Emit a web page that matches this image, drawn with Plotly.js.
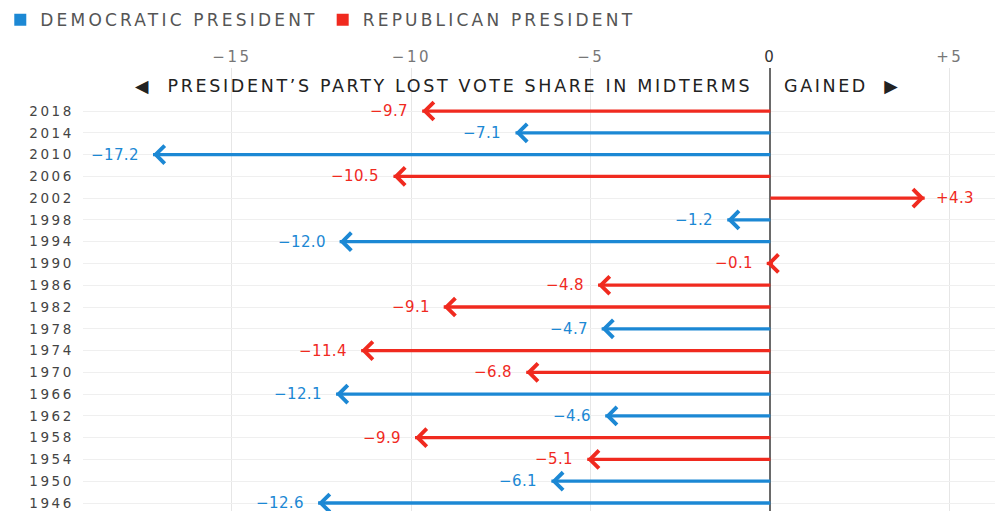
<!DOCTYPE html>
<html>
<head>
<meta charset="utf-8">
<script src="https://cdn.plot.ly/plotly-3.0.1.min.js"></script>
<style>
  html, body { margin: 0; padding: 0; background: #fff; }
  #chart { width: 995px; height: 511px; }
  .legendtext { letter-spacing: 3.2px; }
  .ytick text { letter-spacing: 2.6px; }
  .xtick text { letter-spacing: 2.5px; }
  .annotation-text { letter-spacing: 0.4px; }
</style>
</head>
<body>
<div id="chart"></div>
<script>
// ---- data ----
const years  = [2018, 2014, 2010, 2006, 2002, 1998, 1994, 1990, 1986, 1982, 1978, 1974, 1970, 1966, 1962, 1958, 1954, 1950, 1946];
const values = [-9.7, -7.1, -17.2, -10.5, 4.3, -1.2, -12.0, -0.1, -4.8, -9.1, -4.7, -11.4, -6.8, -12.1, -4.6, -9.9, -5.1, -6.1, -12.6];
const parties = ['R','D','D','R','R','D','D','R','R','R','D','R','R','D','D','R','R','D','D'];
const partyNames = { D: 'DEMOCRATIC PRESIDENT', R: 'REPUBLICAN PRESIDENT' };
const xTickVals = [-15, -10, -5, 0, 5];
const xTickText = ['\u221215', '\u221210', '\u22125', '<span style="fill:#333">0</span>', '+5'];
const lostTitle = '\u25C0  PRESIDENT\u2019S PARTY LOST VOTE SHARE IN MIDTERMS';
const gainedTitle = 'GAINED  \u25B6';

const colors = { D: '#1c88d4', R: '#f02a1f' };
const fmt = v => (v > 0 ? '+' : '\u2212') + Math.abs(v).toFixed(1);
const FONT = '"DejaVu Sans", sans-serif';
const spaced = (t, px) => '<span style="letter-spacing:' + px + 'px">' + t + '</span>';

const traces = ['D', 'R'].map(p => {
  const idx = parties.map((q, i) => q === p ? i : -1).filter(i => i >= 0);
  return {
    type: 'bar', orientation: 'h',
    name: partyNames[p],
    x: idx.map(i => values[i]),
    y: idx.map(i => years[i]),
    base: 0,
    width: 0.6,
    marker: { color: colors[p], line: { width: 0 } },
    hoverinfo: 'skip'
  };
});

const annotations = [];
years.forEach((yr, i) => {
  const v = values[i], c = colors[parties[i]];
  // chevron arrow head at the tip of each bar
  annotations.push({
    x: v, y: yr, xref: 'x', yref: 'y',
    ax: v < 0 ? 6 : -6, ay: 0,
    showarrow: true, arrowhead: 4, arrowsize: 1.15, arrowwidth: 3,
    arrowcolor: c, text: '', font: { size: 1 }, borderpad: 0, borderwidth: 0
  });
  // value label
  annotations.push({
    x: v, y: yr, xref: 'x', yref: 'y', showarrow: false,
    text: fmt(v), xanchor: v < 0 ? 'right' : 'left',
    xshift: v < 0 ? -12 : 9, yshift: 0,
    font: { family: FONT, size: 15, color: c }
  });
});
// axis direction titles
annotations.push({
  x: 0, y: 1, xref: 'x', yref: 'paper', yanchor: 'middle', xanchor: 'right',
  yshift: -18, xshift: -16, showarrow: false, text: spaced(lostTitle, 2.65),
  font: { family: FONT, size: 17.5, color: '#222' }
});
annotations.push({
  x: 0, y: 1, xref: 'x', yref: 'paper', yanchor: 'middle', xanchor: 'left',
  yshift: -18, xshift: 12, showarrow: false, text: spaced(gainedTitle, 2.6),
  font: { family: FONT, size: 17.5, color: '#222' }
});

const layout = {
  width: 995, height: 511,
  margin: { l: 80, r: 0, t: 68, b: 0 },
  paper_bgcolor: '#fff', plot_bgcolor: '#fff',
  showlegend: true,
  legend: {
    orientation: 'h', x: -0.0907, xanchor: 'left', y: 1.108, yanchor: 'middle',
    font: { family: FONT, size: 17, color: '#555' },
    itemwidth: 30, tracegroupgap: 0
  },
  barmode: 'overlay',
  xaxis: {
    range: [-19.15, 6.26], side: 'top',
    tickmode: 'array', tickvals: xTickVals, ticktext: xTickText,
    showgrid: true, gridcolor: '#e6e6e6', gridwidth: 1,
    zeroline: true, zerolinecolor: '#6a6a6a', zerolinewidth: 2,
    ticks: '', ticklabelstandoff: 2,
    tickfont: { family: FONT, size: 15, color: '#777' },
    fixedrange: true
  },
  yaxis: {
    range: [1944.53, 2025.9],
    tickmode: 'array', tickvals: years, ticktext: years.map(String),
    showgrid: true, gridcolor: '#efefef', gridwidth: 1,
    zeroline: false, ticks: '', ticklabelstandoff: 8,
    tickfont: { family: FONT, size: 13.5, color: '#444' },
    fixedrange: true
  },
  annotations: annotations
};

Plotly.newPlot('chart', traces, layout, { displayModeBar: false, staticPlot: true });
</script>
</body>
</html>
